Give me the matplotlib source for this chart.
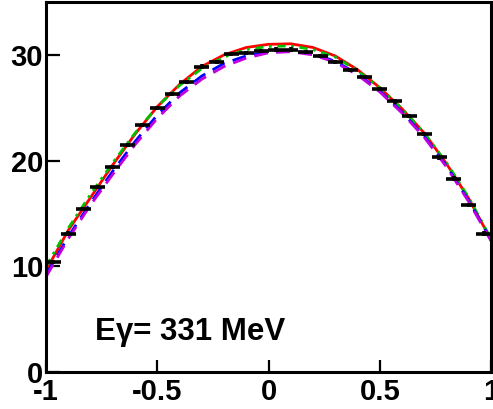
import matplotlib
matplotlib.use("Agg")
import matplotlib.pyplot as plt
import numpy as np

plt.rcParams['font.family'] = ['Liberation Sans', 'DejaVu Sans']

# measured points (30 bins in cos theta)
cos_bins = np.array([-0.967, -0.9, -0.833, -0.767, -0.7, -0.633, -0.567, -0.5, -0.433, -0.367,
                     -0.3, -0.233, -0.167, -0.1, -0.033, 0.033, 0.1, 0.167, 0.233, 0.3,
                     0.367, 0.433, 0.5, 0.567, 0.633, 0.7, 0.767, 0.833, 0.9, 0.967])
xsec = np.array([10.4, 13.1, 15.4, 17.5, 19.4, 21.5, 23.4, 25.0, 26.3, 27.4,
                 28.9, 29.3, 30.1, 30.2, 30.4, 30.5, 30.5, 30.3, 29.9, 29.3,
                 28.6, 27.9, 26.8, 25.6, 24.2, 22.5, 20.3, 18.3, 15.8, 13.1])
xsec_err = np.full(len(xsec), 0.2)
bin_half = 0.0333

# model curves
cos_curve = [-1.0, -0.9, -0.8, -0.7, -0.6, -0.5, -0.4, -0.3, -0.2, -0.1, 0.0,
             0.1, 0.2, 0.3, 0.4, 0.5, 0.6, 0.7, 0.8, 0.9, 1.0]
red_curve = [9.6, 13.4, 16.5, 19.6, 22.5, 25.1, 27.2, 28.9, 30.0, 30.7, 31.0,
             31.05, 30.7, 29.9, 28.6, 26.9, 24.9, 22.6, 19.7, 16.4, 12.5]
green_curve = [10.0, 13.6, 16.8, 19.8, 22.6, 25.1, 27.1, 28.7, 29.8, 30.5, 30.8,
               30.85, 30.5, 29.8, 28.5, 26.9, 24.9, 22.6, 19.8, 16.5, 12.6]
blue_curve = [9.2, 12.8, 16.0, 19.0, 21.8, 24.3, 26.4, 28.0, 29.2, 29.9, 30.3,
              30.4, 30.1, 29.4, 28.2, 26.6, 24.6, 22.3, 19.5, 16.2, 12.5]
magenta_curve = [9.0, 12.6, 15.8, 18.7, 21.5, 24.0, 26.1, 27.7, 28.9, 29.7, 30.2,
                 30.3, 30.0, 29.3, 28.1, 26.5, 24.5, 22.2, 19.4, 16.1, 12.4]

fig = plt.figure(figsize=(4.93, 4.09), dpi=100)
ax = fig.add_axes([0.0933, 0.0905, 0.9027, 0.9045])

ax.plot(cos_curve, red_curve, color='red', lw=2.0, solid_capstyle='round')
ax.plot(cos_curve, green_curve, color='#00c000', lw=2.0, dashes=(3, 2, 1, 2))
ax.plot(cos_curve, blue_curve, color='blue', lw=2.0, dashes=(5, 3))
ax.plot(cos_curve, magenta_curve, color='#c000e0', lw=2.0, dashes=(5, 3))

ax.errorbar(cos_bins, xsec, xerr=bin_half, yerr=xsec_err, fmt='none',
            ecolor='black', elinewidth=2.6, capsize=0)

ax.text(-0.78, 3.0, 'E\u03b3= 331 MeV', fontsize=22.5, fontweight='bold',
        ha='left', va='baseline')

ax.set_xlim(-1, 1)
ax.set_ylim(0, 35)
ax.set_xticks([-1, -0.5, 0, 0.5, 1])
ax.set_xticklabels(['-1', '-0.5', '0', '0.5', '1'])
ax.set_yticks([0, 10, 20, 30])
ax.tick_params(direction='in', length=9, width=1.6, labelsize=21, pad=4)
ax.tick_params(axis='y', length=10, pad=2)
for lab in ax.get_xticklabels() + ax.get_yticklabels():
    lab.set_fontweight('bold')
for sp in ax.spines.values():
    sp.set_linewidth(2.2)

fig.savefig('out.png', dpi=100)
